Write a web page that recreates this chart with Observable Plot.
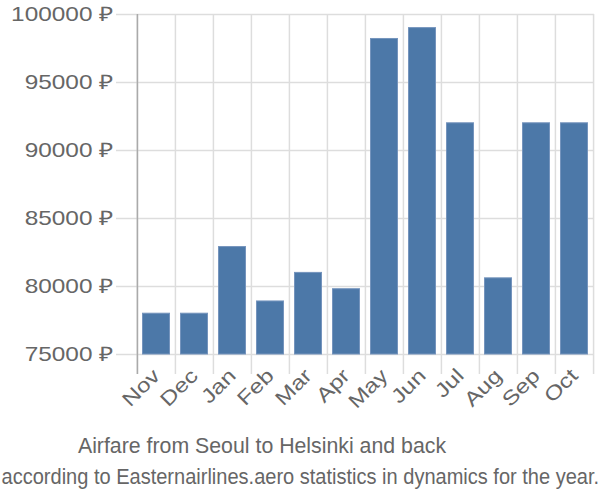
<!DOCTYPE html>
<html>
<head>
<meta charset="utf-8">
<script src="https://cdn.jsdelivr.net/npm/d3@7"></script>
<script src="https://cdn.jsdelivr.net/npm/@observablehq/plot@0.6"></script>
<style>
  html, body { margin: 0; padding: 0; background: #fff; }
  body { width: 600px; font-family: "Liberation Sans", Arial, sans-serif; overflow: hidden; }
  #title { box-sizing: border-box; width: 600px; padding-right: 76px; text-align: center; color: #666; font-size: 21.3px; line-height: 24px; margin-top: 14px; white-space: nowrap; }
  #subtitle { width: 600px; display: flex; justify-content: center; color: #666; font-size: 22px; line-height: 26px; margin-top: 6px; white-space: nowrap; }
  #subtitle span { display: inline-block; flex: none; transform: scaleX(0.91); transform-origin: 50% 50%; }
</style>
</head>
<body>
<div id="chart"></div>
<div id="title">Airfare from Seoul to Helsinki and back</div>
<div id="subtitle"><span>according to Easternairlines.aero statistics in dynamics for the year.</span></div>
<script>
const months = ["Nov", "Dec", "Jan", "Feb", "Mar", "Apr", "May", "Jun", "Jul", "Aug", "Sep", "Oct"];
const prices = [78000, 78000, 82900, 78900, 81000, 79800, 98200, 99000, 92000, 80600, 92000, 92000];
const yTicks = [75000, 80000, 85000, 90000, 95000, 100000];

const data = months.map((m, i) => ({month: m, price: prices[i]}));

const W = 600, H = 420, mL = 136, mR = 6, mT = 14, mB = 66;
const bw = (W - mL - mR) / months.length;

const chart = Plot.plot({
  width: W,
  height: H,
  marginLeft: mL,
  marginRight: mR,
  marginTop: mT,
  marginBottom: mB,
  style: {fontFamily: "'Liberation Sans', Arial, sans-serif", fontSize: "20px", color: "#666", background: "#fff"},
  x: {domain: months, padding: 0, label: null},
  y: {domain: [75000, 100000], label: null},
  marks: [
    Plot.ruleY(yTicks, {stroke: "#ddd", strokeWidth: 1.5, insetLeft: -20}),
    Plot.ruleX(months, {x: d => d, dx: -bw / 2, stroke: "#ddd", strokeWidth: 1.5, insetBottom: -20}),
    Plot.ruleX([months[months.length - 1]], {x: d => d, dx: bw / 2, stroke: "#ddd", strokeWidth: 1.5, insetBottom: -20}),
    Plot.barY(data, {x: "month", y1: 75000, y2: "price", fill: "#4c78a8", stroke: "#7594bd", strokeWidth: 1, insetLeft: 5.5, insetRight: 5.5}),
    Plot.ruleX([months[0]], {x: d => d, dx: -bw / 2, stroke: "#aaa", strokeWidth: 1.5, insetBottom: -20}),
    Plot.axisY(yTicks, {tickSize: 20, stroke: "#ddd", tickPadding: 3, tickFormat: d => d + " ₽", fill: "#666", fontSize: 20}),
    Plot.axisX({tickSize: 0, tickRotate: -45, tickPadding: 18, fill: "#666", fontSize: 20})
  ]
});
// horizontally stretched tick labels, as in the reference
chart.querySelectorAll('g[aria-label="y-axis tick label"] text, g[aria-label="x-axis tick label"] text').forEach(t => {
  const tr = t.getAttribute("transform") || "";
  t.setAttribute("transform", tr + " scale(1.22,1)");
});
document.getElementById("chart").append(chart);
</script>
</body>
</html>
